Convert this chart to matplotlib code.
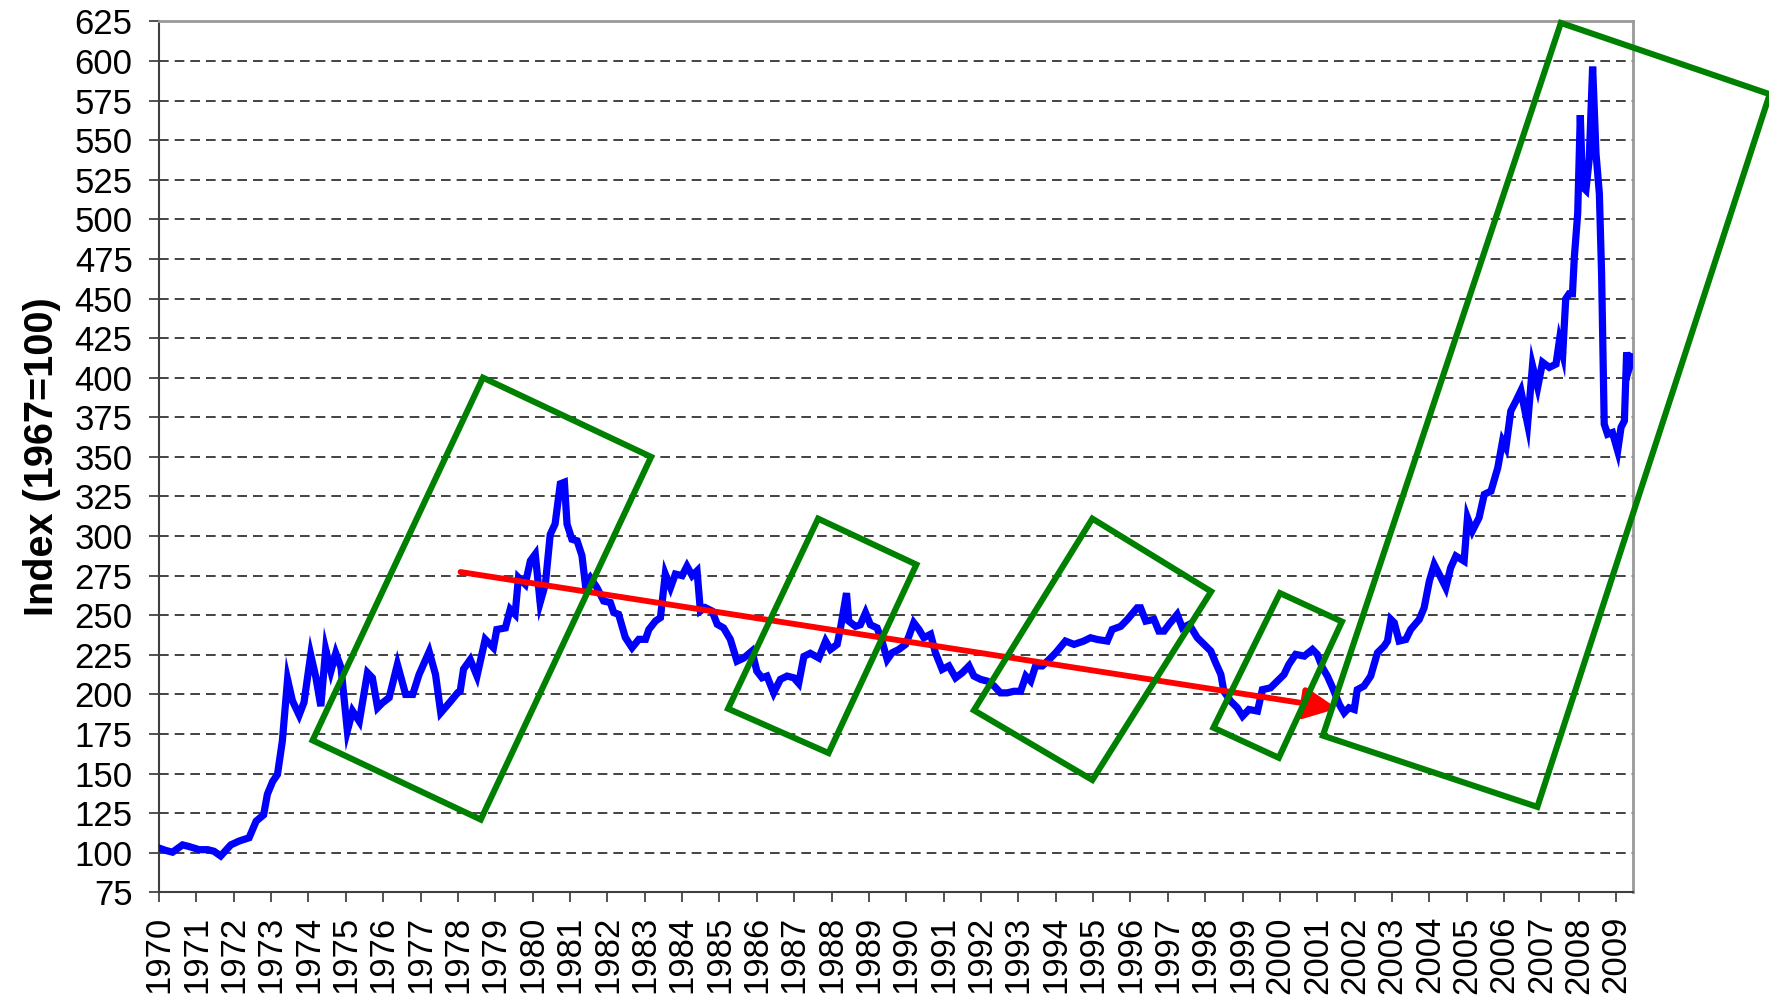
import matplotlib
matplotlib.use("Agg")
import matplotlib.pyplot as plt
from matplotlib.patches import Polygon

plt.rcParams["font.family"] = ["Liberation Sans", "DejaVu Sans"]

# index values (year, value)
years = [
    1970.0, 1970.18, 1970.36, 1970.63, 1970.8, 1971.07, 1971.3, 1971.47, 1971.65, 1971.92,
    1972.14, 1972.41, 1972.6, 1972.8, 1972.9, 1973.04, 1973.17, 1973.3, 1973.44, 1973.57,
    1973.75, 1973.88, 1974.06, 1974.2, 1974.33, 1974.46, 1974.6, 1974.73, 1974.87, 1975.04,
    1975.18, 1975.36, 1975.58, 1975.71, 1975.85, 1975.98, 1976.16, 1976.38, 1976.6, 1976.79,
    1976.96, 1977.23, 1977.4, 1977.54, 1977.77, 1977.99,
    1978.06, 1978.15, 1978.33, 1978.51, 1978.73, 1978.95, 1979.04, 1979.27, 1979.4, 1979.53,
    1979.62, 1979.8, 1979.94, 1980.07, 1980.2, 1980.34, 1980.47, 1980.6, 1980.74, 1980.85,
    1980.92, 1981.05, 1981.19, 1981.32, 1981.41, 1981.54, 1981.72, 1981.9, 1982.08, 1982.17,
    1982.3, 1982.48, 1982.66, 1982.84, 1983.02, 1983.11, 1983.29, 1983.42, 1983.55, 1983.69,
    1983.82, 1984.0, 1984.13, 1984.27, 1984.4, 1984.49, 1984.62, 1984.8, 1984.94, 1985.11,
    1985.29, 1985.47, 1985.65, 1985.87,
    1986.0, 1986.14, 1986.27, 1986.45, 1986.63, 1986.81, 1986.99, 1987.12, 1987.26, 1987.43,
    1987.66, 1987.84, 1987.97, 1988.15, 1988.24, 1988.4, 1988.46, 1988.64, 1988.77, 1988.91,
    1989.04, 1989.22, 1989.35, 1989.49, 1989.62, 1989.8, 1989.98, 1990.07, 1990.2, 1990.34,
    1990.47, 1990.65, 1990.78, 1990.96, 1991.14, 1991.32, 1991.5, 1991.68, 1991.81, 1991.99,
    1992.17, 1992.35, 1992.52, 1992.7, 1992.88, 1993.06, 1993.2, 1993.33, 1993.46,
    1993.64, 1993.82, 1994.0, 1994.26, 1994.49, 1994.75, 1994.93, 1995.11, 1995.38, 1995.51,
    1995.74, 1995.92, 1996.18, 1996.27, 1996.41, 1996.63, 1996.76, 1996.9, 1997.03, 1997.25,
    1997.39, 1997.57, 1997.79, 1997.97, 1998.15, 1998.28, 1998.42, 1998.5, 1998.68, 1998.86,
    1999.0, 1999.17, 1999.4, 1999.53, 1999.75, 1999.93, 2000.11, 2000.24, 2000.42, 2000.65,
    2000.87, 2001.0, 2001.14, 2001.27, 2001.41, 2001.59, 2001.72, 2001.85, 2001.99,
    2002.07, 2002.25, 2002.43, 2002.61, 2002.79, 2002.88, 2002.97, 2003.06, 2003.19, 2003.37,
    2003.5, 2003.73, 2003.86, 2004.0, 2004.13, 2004.31, 2004.44, 2004.57, 2004.71, 2004.93,
    2005.02, 2005.15, 2005.33, 2005.47, 2005.65, 2005.83,
    2005.96, 2006.05, 2006.18, 2006.32, 2006.45, 2006.63, 2006.76, 2006.9, 2007.03, 2007.21,
    2007.39, 2007.48, 2007.57, 2007.65, 2007.74, 2007.83, 2007.88, 2007.97, 2008.04, 2008.1,
    2008.19, 2008.28, 2008.37, 2008.46, 2008.55, 2008.61, 2008.68, 2008.77, 2008.9, 2009.04,
    2009.13, 2009.22, 2009.28, 2009.35, 2009.44,
]
index = [
    103, 101.5, 100.4, 105, 104, 102, 102, 101, 98, 105,
    107.4, 109.5, 120, 124, 137, 145, 149.5, 170.5, 209.5, 196,
    187, 195, 225, 210.5, 192.6, 228.4, 214.7, 226, 217, 177,
    189.5, 183, 213.7, 210.5, 191.6, 194.7, 198, 219, 200, 200,
    212.6, 227, 212.6, 188.4, 194.7, 201,
    202, 216, 222, 211.6, 234.8, 229.5, 241, 242, 253.8, 250.6,
    273.8, 269.6, 284.4, 288.6, 258, 269.6, 301, 307.6, 333, 334,
    307.6, 298, 297, 287.6, 269.6, 273.8, 267.5, 259, 258, 251.7,
    250.6, 236, 229.5, 234.8, 234.8, 241, 246.4, 248.5, 276, 267.5,
    276, 275, 281, 275, 278, 252.7, 254.8, 252.7, 244.3, 242,
    234.8, 221, 223, 227.4,
    214.7, 210.5, 211.6, 201, 209.5, 211.6, 210.5, 207, 224, 226,
    223, 233.7, 228.4, 231.6, 242, 264, 246.3, 243, 244, 251.6,
    244, 242, 233.7, 222, 226.3, 228.4, 231.6, 236.8, 245.3, 241,
    235.8, 238, 226.3, 215.8, 218, 210.5, 213.7, 218, 211.6, 209.5,
    208.4, 205.3, 201, 201, 202, 202, 211.6, 208.4, 218,
    218, 222, 226.3, 233.7, 231.6, 233.7, 235.8, 234.7, 233.7, 241,
    243, 247.4, 254.7, 254.7, 246.3, 247.4, 240, 240, 244.2, 250.5,
    242, 244.2, 235.8, 231.6, 227.4, 220, 212.6, 202, 195.8, 191.6,
    186.3, 190.5, 189.5, 203, 204.2, 208.4, 212.6, 219, 225.3, 224.2,
    228.4, 225.3, 216.8, 211.6, 204.2, 193.7, 188.4, 191.6, 190.5,
    203, 205.3, 211.6, 226.3, 230.5, 233.7, 247.4, 245.3, 233.7, 234.7,
    241, 247.4, 254.7, 271.6, 282, 273.7, 267.4, 280, 287.4, 284.2,
    311.6, 303.2, 311.6, 326.3, 328.4, 343,
    360, 356, 379, 385.4, 391.8, 370.7, 407.6, 394, 409.7, 406.5,
    408.6, 423.4, 415, 449.8, 453, 453, 476, 503.6, 565.8, 520.5,
    518.4, 538.4, 596.4, 541.6, 516.2, 465.6, 370.7, 364.3, 365.4, 353.8,
    368.6, 372.8, 416, 406, 413,
]

# annotation shapes (data coordinates)
boxes = [
    [(1978.67, 400), (1983.17, 350), (1978.61, 121), (1974.11, 171)],
    [(1987.64, 311), (1990.27, 282), (1987.92, 163), (1985.23, 191)],
    [(1994.98, 311), (1998.16, 265), (1994.98, 146), (1991.81, 190)],
    [(2000.0, 264), (2001.66, 246), (1999.97, 160), (1998.22, 179)],
    [(2007.52, 624), (2013.11, 579), (2006.89, 129), (2001.15, 174)],
]
trend_start = (1978.07, 277.3)
trend_end = (2001.54, 191.1)

year_ticks = list(range(1970, 2010))
value_ticks = list(range(75, 626, 25))

fig = plt.figure(figsize=(17.69, 9.98), dpi=100)
ax = fig.add_axes([0.0899, 0.1058, 0.8330, 0.8728])

ax.plot(years, index, color="#0000FF", linewidth=5.2, solid_joinstyle="miter", zorder=3)

ax.annotate("", xy=trend_end, xytext=trend_start,
            arrowprops=dict(arrowstyle="-|>,head_length=2.0,head_width=0.95",
                            mutation_scale=10, color="#FF0000", lw=4.2,
                            shrinkA=0, shrinkB=0),
            zorder=4)

for b in boxes:
    ax.add_patch(Polygon(b, closed=True, fill=False, edgecolor="#008000",
                         linewidth=4.4, joinstyle="miter", clip_on=False, zorder=5))

ax.set_xlim(1970, 2009.44)
ax.set_ylim(75, 625)
ax.set_xticks(year_ticks)
ax.set_xticklabels([str(y) for y in year_ticks], rotation=90)
ax.set_yticks(value_ticks)

for v in value_ticks[1:-1]:
    ax.axhline(v, color="#222222", linewidth=1.2, dashes=(5.8, 3.6), zorder=1)

ax.tick_params(axis="both", labelsize=25, direction="out", length=7, width=1.2,
               color="#333333")
ax.tick_params(axis="y", pad=12)
ax.tick_params(axis="x", pad=10)

ax.spines["left"].set_color("#404040")
ax.spines["bottom"].set_color("#404040")
ax.spines["left"].set_linewidth(1.5)
ax.spines["bottom"].set_linewidth(1.5)
ax.spines["top"].set_color("#999999")
ax.spines["right"].set_color("#999999")
ax.spines["top"].set_linewidth(2)
ax.spines["right"].set_linewidth(2)

ax.set_ylabel("Index (1967=100)", fontsize=28.5, fontweight="bold", labelpad=10)

fig.savefig("out.png", dpi=100)
